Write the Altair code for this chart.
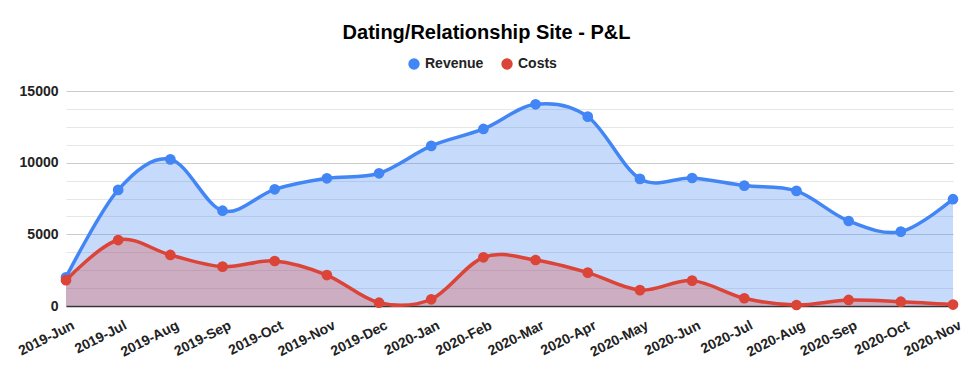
import altair as alt
import pandas as pd

months = ["2019-Jun", "2019-Jul", "2019-Aug", "2019-Sep", "2019-Oct", "2019-Nov",
          "2019-Dec", "2020-Jan", "2020-Feb", "2020-Mar", "2020-Apr", "2020-May",
          "2020-Jun", "2020-Jul", "2020-Aug", "2020-Sep", "2020-Oct", "2020-Nov"]
revenue = [2000, 8100, 10230, 6650, 8140, 8910, 9260, 11170, 12350, 14070, 13210, 8870,
           8930, 8400, 8030, 5930, 5190, 7450]
costs = [1800, 4600, 3560, 2745, 3140, 2160, 230, 470, 3400, 3210, 2330, 1110,
         1770, 540, 70, 420, 300, 100]
series_names = ["Revenue", "Costs"]
series_colors = ["#4285F4", "#DB4437"]
y_ticks = [i * 1250 for i in range(13)]

rows = []
for m, r, c in zip(months, revenue, costs):
    rows.append({"month": m, "series": "Revenue", "value": r})
    rows.append({"month": m, "series": "Costs", "value": c})
df = pd.DataFrame(rows)

FONT = "Liberation Sans"

x = alt.X("month:N", sort=months, title=None,
          scale=alt.Scale(type="point", padding=0),
          axis=alt.Axis(labelAngle=-27, labelAlign="right", labelBaseline="top",
                        labelFontWeight="bold", labelFontSize=14,
                        labelColor="#222222", ticks=False, domain=True,
                        domainColor="#333333", domainWidth=1.5, labelPadding=12,
                        labelOffset=4, labelOverlap=False,
                        grid=False, labelFont=FONT))
y = alt.Y("value:Q", title=None,
          scale=alt.Scale(domain=[0, 15000], nice=False),
          axis=alt.Axis(values=y_ticks, format="d",
                        labelExpr="datum.value % 5000 === 0 ? datum.label : ''",
                        gridColor={"condition": {"test": "datum.value % 5000 === 0", "value": "#cccccc"}, "value": "#e6e6e6"},
                        gridWidth=1, domain=False, ticks=False, labelPadding=8,
                        labelFontWeight="bold", labelFontSize=14, labelColor="#222222",
                        labelFont=FONT))
color = alt.Color("series:N",
                  scale=alt.Scale(domain=series_names, range=series_colors),
                  legend=alt.Legend(title=None, orient="none", direction="horizontal",
                                    legendX=341, legendY=-34, symbolType="circle",
                                    symbolSize=130, labelFontSize=14, labelFontWeight="bold",
                                    labelFont=FONT, labelColor="#222222",
                                    columnPadding=16, symbolOpacity=1, symbolStrokeWidth=0))

layers = []
for s in series_names:
    layers.append(alt.Chart(df).transform_filter(alt.datum.series == s)
                  .mark_area(interpolate="cardinal", opacity=0.3)
                  .encode(x=x, y=y, color=color))
for s in series_names:
    base = alt.Chart(df).transform_filter(alt.datum.series == s)
    layers.append(base.mark_line(interpolate="cardinal", strokeWidth=3.5)
                  .encode(x=x, y=y, color=color))
    layers.append(base.mark_circle(size=115, opacity=1)
                  .encode(x=x, y=y, color=color))

chart = alt.layer(*layers).properties(
    width=887, height=215,
    title=alt.TitleParams("Dating/Relationship Site - P&L", anchor="middle",
                          fontSize=20, fontWeight="bold", font=FONT,
                          color="#000000", dx=-23, offset=14),
    autosize=alt.AutoSizeParams(type="none"),
    padding={"left": 58, "top": 83, "right": 11, "bottom": 57},
).configure_view(stroke=None)

chart.save("out.html", embed_options={"renderer": "svg", "actions": False})
